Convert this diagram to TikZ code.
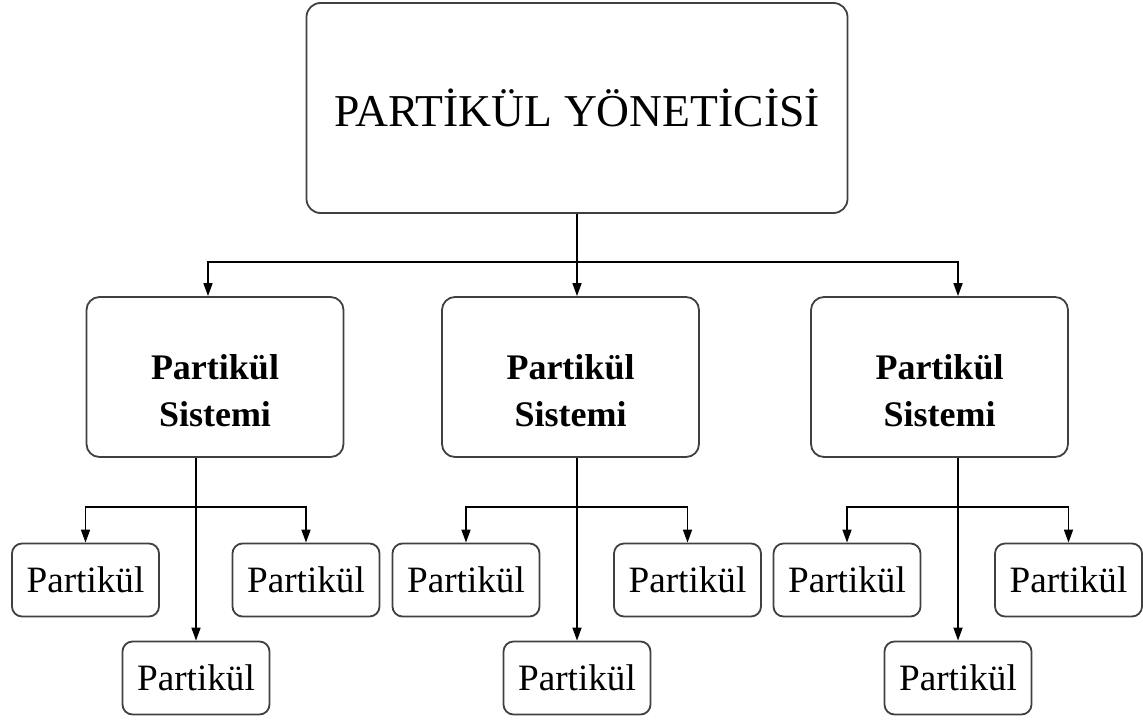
\documentclass[tikz,border=0pt]{standalone}
\usepackage{fontspec}
\setmainfont{Liberation Serif}
\usetikzlibrary{arrows.meta, positioning}

\newcommand{\sysstrut}{\rule{0pt}{26pt}}

\begin{document}
\begin{tikzpicture}[x=0.5pt, y=-0.5pt,
  box/.style={draw=black!75, line width=0.9pt, rounded corners=7pt, align=center, inner sep=0pt},
  mgr/.style={box, minimum width=270.5pt, minimum height=105pt, font=\fontsize{22.8}{27}\selectfont},
  sys/.style={box, rounded corners=6.5pt, minimum width=128.5pt, minimum height=80pt, font=\fontsize{18}{23.5}\selectfont\bfseries},
  prt/.style={box, rounded corners=5pt, minimum width=73.5pt, minimum height=36.5pt, font=\fontsize{18.6}{22}\selectfont},
  link/.style={-{Triangle[length=6.5pt, width=4.5pt]}, line width=0.8pt}]
  \useasboundingbox (0,0) rectangle (1143,722);

  \node[mgr] (man) at (577,108) {PARTİKÜL YÖNETİCİSİ};

  \node[sys] (sys1) at (215,377) {\sysstrut Partikül\\Sistemi};
  \node[sys] (sys2) at (570.5,377) {\sysstrut Partikül\\Sistemi};
  \node[sys] (sys3) at (939.5,377) {\sysstrut Partikül\\Sistemi};

  \node[prt] (p1a) at (85.5,580) {Partikül};
  \node[prt] (p1b) at (306,580) {Partikül};
  \node[prt] (p1c) at (196,678) {Partikül};

  \node[prt] (p2a) at (466,580) {Partikül};
  \node[prt] (p2b) at (687.5,580) {Partikül};
  \node[prt] (p2c) at (577,678) {Partikül};

  \node[prt] (p3a) at (847,580) {Partikül};
  \node[prt] (p3b) at (1068.5,580) {Partikül};
  \node[prt] (p3c) at (958,678) {Partikül};

  % manager to systems
  \coordinate (split) at (577,262);
  \draw[link] (man.south) -- ([xshift=3.25pt]sys2.north);
  \draw[link] (split) -| ([xshift=-3.5pt]sys1.north);
  \draw[link] (split) -| ([xshift=9.25pt]sys3.north);

  % systems to particles
  \coordinate (fork1) at (196,507);
  \draw[link] (sys1.south -| p1c.north) -- (p1c.north);
  \draw[link] (fork1) -| (p1a.north);
  \draw[link] (fork1) -| (p1b.north);

  \coordinate (fork2) at (577,507);
  \draw[link] (sys2.south -| p2c.north) -- (p2c.north);
  \draw[link] (fork2) -| (p2a.north);
  \draw[link] (fork2) -| (p2b.north);

  \coordinate (fork3) at (958,507);
  \draw[link] (sys3.south -| p3c.north) -- (p3c.north);
  \draw[link] (fork3) -| (p3a.north);
  \draw[link] (fork3) -| (p3b.north);
\end{tikzpicture}
\end{document}
